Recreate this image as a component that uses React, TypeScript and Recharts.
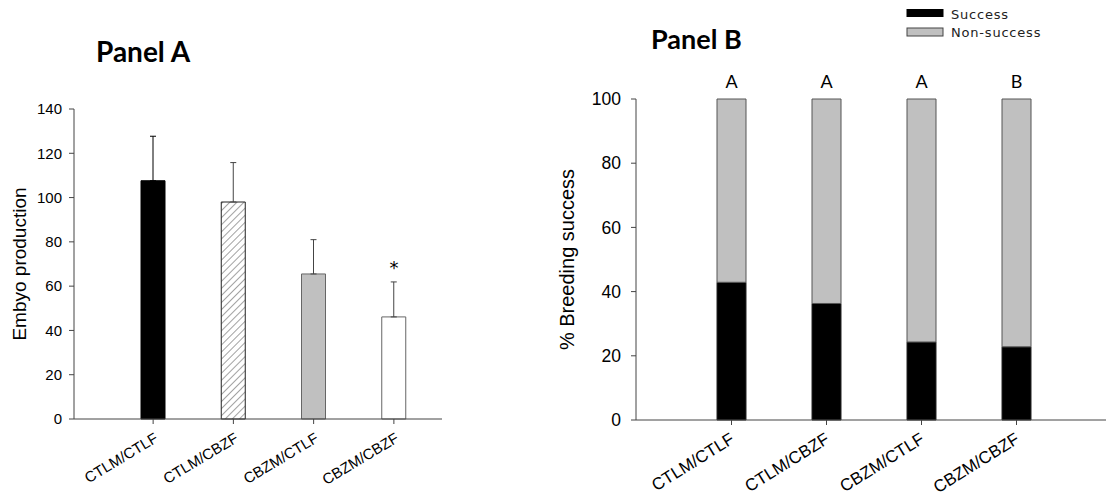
import React from 'react';
import {
  ComposedChart,
  BarChart,
  Bar,
  Line,
  XAxis,
  YAxis,
  ErrorBar,
  Cell,
  LabelList,
  Legend,
} from 'recharts';

// ---------- data ----------
const categories = ['CTLM/CTLF', 'CTLM/CBZF', 'CBZM/CTLF', 'CBZM/CBZF'];
const embryoMean = [107.6, 98.0, 65.5, 46.1];
const embryoSD = [20.1, 17.8, 15.5, 15.8];
const significance = ['', '', '', '*'];
const successPct = [42.9, 36.3, 24.3, 22.8];
const groupLetters = ['A', 'A', 'A', 'B'];
const yTicksA = [0, 20, 40, 60, 80, 100, 120, 140];
const yTicksB = [0, 20, 40, 60, 80, 100];
const legendOrder = ['success', 'nonSuccess'];

// ---------- styles ----------
const ARIAL = '"Liberation Sans", Arial, sans-serif';
const CALIBRI = 'Lato, "Open Sans", sans-serif';
const AXIS = '#444';
const fillsA = ['#000000', 'url(#hatchA)', '#c0c0c0', '#ffffff'];
const strokesA = ['#000000', '#222222', '#666666', '#666666'];

const dataA = categories.map((c, i) => ({
  cat: c,
  mean: embryoMean[i],
  errBlack: i === 0 ? [0, embryoSD[i]] : null,
  errGray: i !== 0 ? [0, embryoSD[i]] : null,
  star: significance[i] ? embryoMean[i] + embryoSD[i] + 7.7 : null,
  sig: significance[i],
}));

const dataB = categories.map((c, i) => ({
  cat: c,
  success: successPct[i],
  nonSuccess: 100 - successPct[i],
  letter: groupLetters[i],
}));

const makeTick = (fontSize: number, dx: number, dy: number, angle: number) => (props: any) => {
  const { x, y, payload } = props;
  const ax = x + dx;
  const ay = y + dy;
  return (
    <text
      x={ax}
      y={ay}
      transform={`rotate(${angle}, ${ax}, ${ay})`}
      textAnchor="end"
      fontSize={fontSize}
      fontFamily={ARIAL}
      fill="#000"
    >
      {payload.value}
    </text>
  );
};

const makeYLabel = (text: string, cxOff: number, fontSize: number) => (props: any) => {
  const vb = props.viewBox || {};
  const cx = (vb.x || 0) + cxOff;
  const cy = (vb.y || 0) + (vb.height || 0) / 2;
  return (
    <text
      x={cx}
      y={cy}
      transform={`rotate(-90, ${cx}, ${cy})`}
      textAnchor="middle"
      dominantBaseline="central"
      fontSize={fontSize}
      fontFamily={ARIAL}
      fill="#000"
    >
      {text}
    </text>
  );
};

const StarDot = (props: any) => {
  const { cx, cy, payload, index } = props;
  if (cy == null || payload == null || payload.star == null) return <g key={`s${index}`} />;
  return (
    <text
      key={`s${index}`}
      x={cx}
      y={cy + 9}
      textAnchor="middle"
      fontSize={18}
      fontFamily='"DejaVu Sans", sans-serif'
      fill="#000"
    >
      {payload.sig}
    </text>
  );
};

const LegendContent = (props: any) => {
  const raw = props.payload || [];
  const payload = legendOrder
    .map((k) => raw.find((p: any) => p.dataKey === k))
    .filter(Boolean);
  return (
    <svg width={170} height={44} style={{ display: 'block' }}>
      {payload.map((p: any, i: number) => (
        <g key={i}>
          <rect
            x={1}
            y={9.5 + i * 18.5}
            width={36}
            height={i === 0 ? 7 : 8}
            fill={p.color}
            stroke={i === 0 ? '#000' : '#444'}
            strokeWidth={1}
          />
          <text
            x={45}
            y={18.5 + i * 18.5}
            fontSize={13}
            letterSpacing={0.8}
            fontFamily='"DejaVu Sans", sans-serif'
            fill="#222"
          >
            {p.value}
          </text>
        </g>
      ))}
    </svg>
  );
};

export default function App() {
  return (
    <div
      style={{
        position: 'absolute',
        left: 0,
        top: 0,
        width: 1107,
        height: 499,
        background: '#fff',
        overflow: 'hidden',
      }}
    >
      <svg width={0} height={0} style={{ position: 'absolute' }}>
        <defs>
          <pattern
            id="hatchA"
            patternUnits="userSpaceOnUse"
            width={5}
            height={5}
            patternTransform="rotate(45)"
          >
            <rect width={5} height={5} fill="#fff" />
            <line x1={0} y1={0} x2={0} y2={5} stroke="#555" strokeWidth={1.1} />
          </pattern>
        </defs>
      </svg>

      {/* Panel A */}
      <div style={{ position: 'absolute', left: 0, top: 0 }}>
        <ComposedChart
          width={560}
          height={499}
          data={dataA}
          margin={{ top: 109, right: 118, bottom: 0, left: 0 }}
        >
          <XAxis
            dataKey="cat"
            type="category"
            height={80}
            padding={{ left: 39, right: 8 }}
            axisLine={{ stroke: AXIS }}
            tickLine={{ stroke: AXIS }}
            tickSize={5}
            interval={0}
            tick={makeTick(15, 6, 15, -31)}
          />
          <YAxis
            type="number"
            domain={[0, 140]}
            ticks={yTicksA}
            interval={0}
            width={74}
            axisLine={{ stroke: AXIS }}
            tickLine={{ stroke: AXIS }}
            tickSize={5}
            tickMargin={7}
            tick={{ fontSize: 15, fontFamily: ARIAL, fill: '#000' }}
            label={{ content: makeYLabel('Embyo production', 19, 19) }}
          />
          <Bar dataKey="mean" barSize={24} isAnimationActive={false} strokeWidth={1}>
            {dataA.map((d, i) => (
              <Cell key={d.cat} fill={fillsA[i]} stroke={strokesA[i]} />
            ))}
            <ErrorBar dataKey="errBlack" width={3} stroke="#000" strokeWidth={1} />
            <ErrorBar dataKey="errGray" width={3} stroke="#444" strokeWidth={1} />
          </Bar>
          <Line
            dataKey="star"
            stroke="none"
            isAnimationActive={false}
            dot={StarDot}
            activeDot={false}
            legendType="none"
          />
        </ComposedChart>
      </div>

      {/* Panel B */}
      <div style={{ position: 'absolute', left: 540, top: 0 }}>
        <BarChart
          width={567}
          height={499}
          data={dataB}
          margin={{ top: 99, right: 1, bottom: 0, left: 0 }}
        >
          <XAxis
            dataKey="cat"
            type="category"
            height={79}
            padding={{ left: 48, right: 42 }}
            axisLine={{ stroke: AXIS }}
            tickLine={{ stroke: AXIS }}
            tickSize={5}
            interval={0}
            tick={makeTick(17, 4, 15, -32)}
          />
          <YAxis
            type="number"
            domain={[0, 100]}
            ticks={yTicksB}
            interval={0}
            width={96}
            axisLine={{ stroke: AXIS }}
            tickLine={{ stroke: AXIS }}
            tickSize={5}
            tickMargin={10}
            tick={{ fontSize: 17.5, fontFamily: ARIAL, fill: '#000' }}
            label={{ content: makeYLabel('% Breeding success', 27, 20) }}
          />
          <Legend
            layout="vertical"
            align="center"
            verticalAlign="middle"
            content={LegendContent}
            wrapperStyle={{ position: 'absolute', left: 366, top: 0, width: 170, height: 44 }}
          />
          <Bar
            dataKey="success"
            name="Success"
            stackId="s"
            fill="#000000"
            stroke="#222"
            strokeWidth={1}
            barSize={29}
            isAnimationActive={false}
          />
          <Bar
            dataKey="nonSuccess"
            name="Non-success"
            stackId="s"
            fill="#c0c0c0"
            stroke="#555"
            strokeWidth={1}
            barSize={29}
            isAnimationActive={false}
          >
            <LabelList
              dataKey="letter"
              position="top"
              offset={11}
              fontSize={18}
              fontFamily={CALIBRI}
              fill="#000"
            />
          </Bar>
        </BarChart>
      </div>

      {/* Titles */}
      <svg
        width={1107}
        height={499}
        style={{ position: 'absolute', left: 0, top: 0, pointerEvents: 'none' }}
      >
        <text x={96} y={62} fontSize={28} fontWeight={700} fontFamily={CALIBRI} fill="#000">
          Panel A
        </text>
        <text x={651} y={49} fontSize={27} fontWeight={700} fontFamily={CALIBRI} fill="#000">
          Panel B
        </text>
      </svg>
    </div>
  );
}
